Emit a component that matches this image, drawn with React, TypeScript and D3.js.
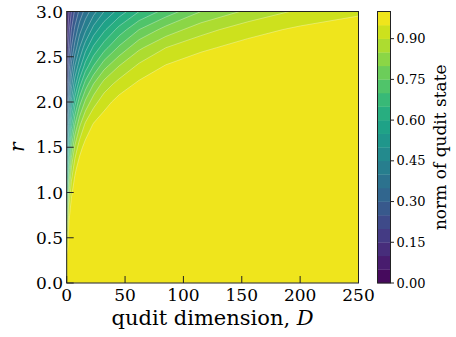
import React from 'react';
import * as d3 from 'd3';

// sample grid of the plotted field: qudit dimension D (columns) and r (rows)
const dimensionGrid = [0, 1, 2, 4, 7, 11, 16, 23, 32, 45, 62, 85, 115, 155, 200, 250];
const rGrid = [0, 0.25, 0.5, 0.75, 1.0, 1.25, 1.5, 1.75, 2.0, 2.2, 2.4, 2.6, 2.8, 3.0];

// norm of qudit state along each r row, one value per D column
const normR000 = [1, 1, 1, 1, 1, 1, 1, 1, 1, 1, 1, 1, 1, 1, 1, 1];
const normR025 = [0.97, 0.98, 1, 1, 1, 1, 1, 1, 1, 1, 1, 1, 1, 1, 1, 1];
const normR050 = [0.89, 0.93, 0.98, 1, 1, 1, 1, 1, 1, 1, 1, 1, 1, 1, 1, 1];
const normR075 = [0.77, 0.84, 0.94, 0.98, 1, 1, 1, 1, 1, 1, 1, 1, 1, 1, 1, 1];
const normR100 = [0.65, 0.73, 0.85, 0.94, 0.98, 1, 1, 1, 1, 1, 1, 1, 1, 1, 1, 1];
const normR125 = [0.53, 0.62, 0.74, 0.86, 0.94, 0.98, 0.99, 1, 1, 1, 1, 1, 1, 1, 1, 1];
const normR150 = [0.43, 0.5, 0.62, 0.75, 0.86, 0.93, 0.97, 0.99, 1, 1, 1, 1, 1, 1, 1, 1];
const normR175 = [0.34, 0.41, 0.5, 0.63, 0.75, 0.84, 0.91, 0.955, 0.98, 0.99, 1, 1, 1, 1, 1, 1];
const normR200 = [0.27, 0.32, 0.4, 0.51, 0.63, 0.73, 0.81, 0.88, 0.93, 0.97, 0.99, 1, 1, 1, 1, 1];
const normR220 = [0.22, 0.27, 0.33, 0.43, 0.53, 0.63, 0.72, 0.8, 0.87, 0.92, 0.96, 0.99, 0.995, 1, 1, 1];
const normR240 = [0.18, 0.22, 0.28, 0.36, 0.45, 0.53, 0.62, 0.7, 0.78, 0.85, 0.91, 0.953, 0.98, 0.99, 1, 1];
const normR260 = [0.15, 0.18, 0.23, 0.3, 0.37, 0.45, 0.53, 0.61, 0.68, 0.76, 0.84, 0.9, 0.94, 0.97, 0.99, 0.995];
const normR280 = [0.12, 0.15, 0.19, 0.25, 0.31, 0.38, 0.44, 0.52, 0.59, 0.67, 0.75, 0.82, 0.88, 0.93, 0.96, 0.98];
const normR300 = [0.1, 0.12, 0.15, 0.2, 0.26, 0.31, 0.37, 0.43, 0.5, 0.57, 0.65, 0.72, 0.8, 0.86, 0.91, 0.94];

const normRows = [normR000, normR025, normR050, normR075, normR100, normR125, normR150,
    normR175, normR200, normR220, normR240, normR260, normR280, normR300];

// contourf levels (20 bands of 0.05)
const levels = [0, 0.05, 0.1, 0.15, 0.2, 0.25, 0.3, 0.35, 0.4, 0.45,
    0.5, 0.55, 0.6, 0.65, 0.7, 0.75, 0.8, 0.85, 0.9, 0.95];
const levelStep = 0.05;

const xTicks = [0, 50, 100, 150, 200, 250];
const yTicks = [0, 0.5, 1, 1.5, 2, 2.5, 3];
const colorbarTicks = [0, 0.15, 0.3, 0.45, 0.6, 0.75, 0.9];

const serif = '"DejaVu Serif", serif';

export default function App() {
    const left = 66.7, right = 358.5, top = 11.5, bottom = 283;
    const cbX = 377.5, cbW = 13;

    const x = d3.scaleLinear().domain([0, 250]).range([left, right]);
    const y = d3.scaleLinear().domain([0, 3]).range([bottom, top]);
    const yc = d3.scaleLinear().domain([0, 1]).range([bottom, top]);

    const nx = dimensionGrid.length, ny = rGrid.length;
    // grid index -> data value (uneven spacing)
    const dAt = d3.scaleLinear().domain(d3.range(nx)).range(dimensionGrid).clamp(true);
    const rAt = d3.scaleLinear().domain(d3.range(ny)).range(rGrid).clamp(true);

    const bands = d3.contours().size([nx, ny]).thresholds(levels)(normRows.flat());
    const path = d3.geoPath(d3.geoTransform({
        point: function (px, py) {
            this.stream.point(x(dAt(px - 0.5)), y(rAt(py - 0.5)));
        }
    }));
    const bandColor = (t) => d3.interpolateViridis(t + levelStep / 2);

    return (
        <svg width={456} height={337} style={{ position: 'absolute', left: 0, top: 0 }}
            fontFamily={serif}>
            <rect width={456} height={337} fill='white' />
            <defs>
                <clipPath id='plot-clip'>
                    <rect x={left} y={top} width={right - left} height={bottom - top} />
                </clipPath>
            </defs>

            <g clipPath='url(#plot-clip)'>
                {bands.map((b, i) => (
                    <path key={'band-' + i} d={path(b)} fill={bandColor(b.value)}
                        stroke={i === 0 ? 'none' : 'rgba(255,255,255,0.45)'} strokeWidth={0.7} />
                ))}
            </g>

            {/* axes frame */}
            <rect x={left} y={top} width={right - left} height={bottom - top}
                fill='none' stroke='#222' strokeWidth={1} />

            {xTicks.map((t) => (
                <g key={'xt-' + t}>
                    <line x1={x(t)} x2={x(t)} y1={bottom} y2={bottom - 7} stroke='#222' strokeWidth={1} />
                    <text x={x(t)} y={301} textAnchor='middle' fontSize={17}>{t}</text>
                </g>
            ))}
            {yTicks.map((t) => (
                <g key={'yt-' + t}>
                    <line x1={left} x2={left + 7} y1={y(t)} y2={y(t)} stroke='#222' strokeWidth={1} />
                    <text x={63} y={y(t) + 6} textAnchor='end' fontSize={17}>{t.toFixed(1)}</text>
                </g>
            ))}

            <text x={(left + right) / 2} y={325} textAnchor='middle' fontSize={21}>
                qudit dimension, <tspan fontStyle='italic'>D</tspan>
            </text>
            <text transform={`translate(24,${(top + bottom) / 2}) rotate(-90)`} textAnchor='middle'
                fontSize={20} fontStyle='italic'>r</text>

            {/* colorbar */}
            {levels.map((t) => (
                <rect key={'cb-' + t} x={cbX} width={cbW} y={yc(t + levelStep)}
                    height={yc(t) - yc(t + levelStep) + 0.3} fill={bandColor(t)} />
            ))}
            <rect x={cbX} y={top} width={cbW} height={bottom - top} fill='none' stroke='#222' strokeWidth={1} />
            {colorbarTicks.map((t) => (
                <g key={'ct-' + t}>
                    <line x1={cbX + cbW} x2={cbX + cbW + 3.5} y1={yc(t)} y2={yc(t)} stroke='#222' strokeWidth={1} />
                    <text x={cbX + cbW + 6} y={yc(t) + 4.5} fontSize={13}>{t.toFixed(2)}</text>
                </g>
            ))}
            <text transform={`translate(446,${(top + bottom) / 2}) rotate(-90)`} textAnchor='middle'
                fontSize={17}>norm of qudit state</text>
        </svg>
    );
}
